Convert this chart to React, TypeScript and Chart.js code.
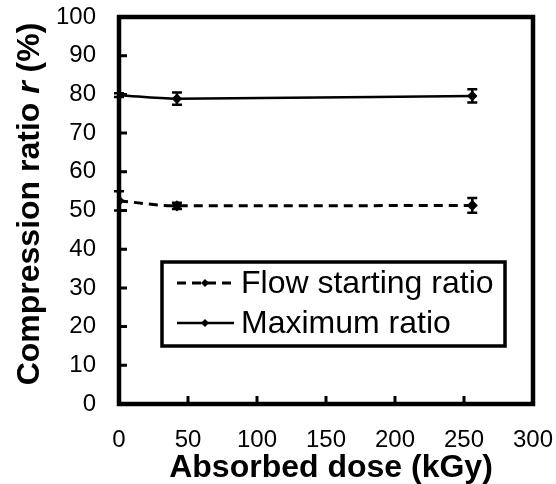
import React, { useEffect, useRef } from "react";
import { Chart, registerables } from "chart.js";

Chart.register(...registerables);

const doses = [0, 42, 256];
const flowStarting = [52.5, 51.2, 51.3];
const flowStartingErr = [2.5, 0.8, 1.9];
const maximumRatio = [79.8, 78.9, 79.6];
const maximumRatioErr = [0.5, 1.6, 1.7];
const seriesLabels = ["Flow starting ratio", "Maximum ratio"];
const xTitle = "Absorbed dose (kGy)";
const yTitleParts = ["Compression ratio ", "r", " (%)"];

const FONT = "'Liberation Sans', Arial, sans-serif";

const errs = [flowStartingErr, maximumRatioErr];

const customPlugin = {
  id: "custom",
  afterDatasetsDraw(chart: any) {
    const ctx = chart.ctx;
    const xs = chart.scales.x;
    const ys = chart.scales.y;
    ctx.save();
    ctx.strokeStyle = "#000";
    ctx.lineWidth = 2.5;
    chart.data.datasets.forEach((ds: any, i: number) => {
      ds.data.forEach((p: any, j: number) => {
        const e = errs[i][j];
        const px = xs.getPixelForValue(p.x);
        const y1 = ys.getPixelForValue(p.y + e);
        const y2 = ys.getPixelForValue(p.y - e);
        ctx.beginPath();
        ctx.moveTo(px, y1);
        ctx.lineTo(px, y2);
        ctx.moveTo(px - 5, y1);
        ctx.lineTo(px + 5, y1);
        ctx.moveTo(px - 5, y2);
        ctx.lineTo(px + 5, y2);
        ctx.stroke();
      });
    });
    ctx.restore();
  },
  afterDraw(chart: any) {
    const ctx = chart.ctx;
    const a = chart.chartArea;
    const xs = chart.scales.x;
    const ys = chart.scales.y;
    ctx.save();
    ctx.strokeStyle = "#000";
    ctx.lineWidth = 3;
    ctx.beginPath();
    ys.ticks.forEach((t: any) => {
      const py = ys.getPixelForValue(t.value);
      ctx.moveTo(a.left, py);
      ctx.lineTo(a.left + 8, py);
    });
    xs.ticks.forEach((t: any) => {
      const px = xs.getPixelForValue(t.value);
      ctx.moveTo(px, a.bottom);
      ctx.lineTo(px, a.bottom - 8);
    });
    ctx.stroke();
    ctx.lineWidth = 4.5;
    ctx.strokeRect(a.left, a.top, a.right - a.left, a.bottom - a.top);

    ctx.fillStyle = "#000";
    ctx.font = `bold 32px ${FONT}`;
    ctx.textAlign = "center";
    ctx.textBaseline = "alphabetic";
    ctx.fillText(xTitle, (a.left + a.right) / 2 + 5, 477);

    const fonts = [`bold 32px ${FONT}`, `italic bold 32px ${FONT}`, `bold 32px ${FONT}`];
    const widths = yTitleParts.map((s, i) => {
      ctx.font = fonts[i];
      return ctx.measureText(s).width;
    });
    const total = widths.reduce((s, w) => s + w, 0);
    ctx.translate(30, 204);
    ctx.rotate(-Math.PI / 2);
    ctx.textAlign = "left";
    ctx.textBaseline = "middle";
    let cx = -total / 2;
    yTitleParts.forEach((s, i) => {
      ctx.font = fonts[i];
      ctx.fillText(s, cx, 0);
      cx += widths[i];
    });
    ctx.setTransform(1, 0, 0, 1, 0, 0);

    const lx = 162, ly = 262, lw = 343, lh = 84;
    ctx.fillStyle = "#fff";
    ctx.fillRect(lx, ly, lw, lh);
    ctx.lineWidth = 3.5;
    ctx.strokeStyle = "#000";
    ctx.strokeRect(lx, ly, lw, lh);
    const rows = [283, 323];
    chart.data.datasets.forEach((ds: any, i: number) => {
      const ry = rows[i];
      ctx.lineWidth = ds.borderWidth;
      ctx.setLineDash(ds.borderDash || []);
      ctx.beginPath();
      ctx.moveTo(177, ry);
      ctx.lineTo(234, ry);
      ctx.stroke();
      ctx.setLineDash([]);
      ctx.fillStyle = "#000";
      ctx.beginPath();
      ctx.moveTo(205, ry - 4);
      ctx.lineTo(209, ry);
      ctx.lineTo(205, ry + 4);
      ctx.lineTo(201, ry);
      ctx.closePath();
      ctx.fill();
      ctx.font = `32px ${FONT}`;
      ctx.textAlign = "left";
      ctx.textBaseline = "middle";
      ctx.fillText(ds.label, 241, ry + 1);
    });
    ctx.restore();
  },
};

export default function App() {
  const ref = useRef<HTMLCanvasElement>(null);
  useEffect(() => {
    if (!ref.current) return;
    const mk = (vals: number[]) => doses.map((x, i) => ({ x, y: vals[i] }));
    const chart = new Chart(ref.current, {
      type: "line",
      data: {
        datasets: [
          {
            label: seriesLabels[0],
            data: mk(flowStarting),
            borderColor: "#000",
            backgroundColor: "#000",
            borderWidth: 3,
            borderDash: [9, 6],
            pointStyle: "rectRot",
            pointRadius: 3.5,
            cubicInterpolationMode: "monotone",
          },
          {
            label: seriesLabels[1],
            data: mk(maximumRatio),
            borderColor: "#000",
            backgroundColor: "#000",
            borderWidth: 2.5,
            pointStyle: "rectRot",
            pointRadius: 3.5,
            cubicInterpolationMode: "monotone",
          },
        ],
      },
      options: {
        animation: false,
        responsive: false,
        maintainAspectRatio: false,
        layout: { padding: { left: 0, top: 17, right: 23, bottom: 0 } },
        plugins: { legend: { display: false }, tooltip: { enabled: false } },
        scales: {
          x: {
            type: "linear",
            min: 0,
            max: 300,
            grid: { display: false, drawTicks: false },
            border: { display: false },
            ticks: { stepSize: 50, padding: 22, color: "#000", font: { family: FONT, size: 24 } },
            afterFit: (s: any) => {
              s.height = 80;
              s.paddingLeft = 0;
              s.paddingRight = 0;
            },
          },
          y: {
            min: 0,
            max: 100,
            grid: { display: false, drawTicks: false },
            border: { display: false },
            ticks: { stepSize: 10, padding: 23, color: "#000", font: { family: FONT, size: 24 } },
            afterFit: (s: any) => {
              s.width = 119;
              s.paddingTop = 0;
              s.paddingBottom = 0;
            },
          },
        },
      },
      plugins: [customPlugin],
    } as any);
    return () => chart.destroy();
  }, []);
  return (
    <div style={{ position: "fixed", left: 0, top: 0, width: 556, height: 484, background: "#fff" }}>
      <canvas ref={ref} width={556} height={484} style={{ width: 556, height: 484 }} />
    </div>
  );
}
